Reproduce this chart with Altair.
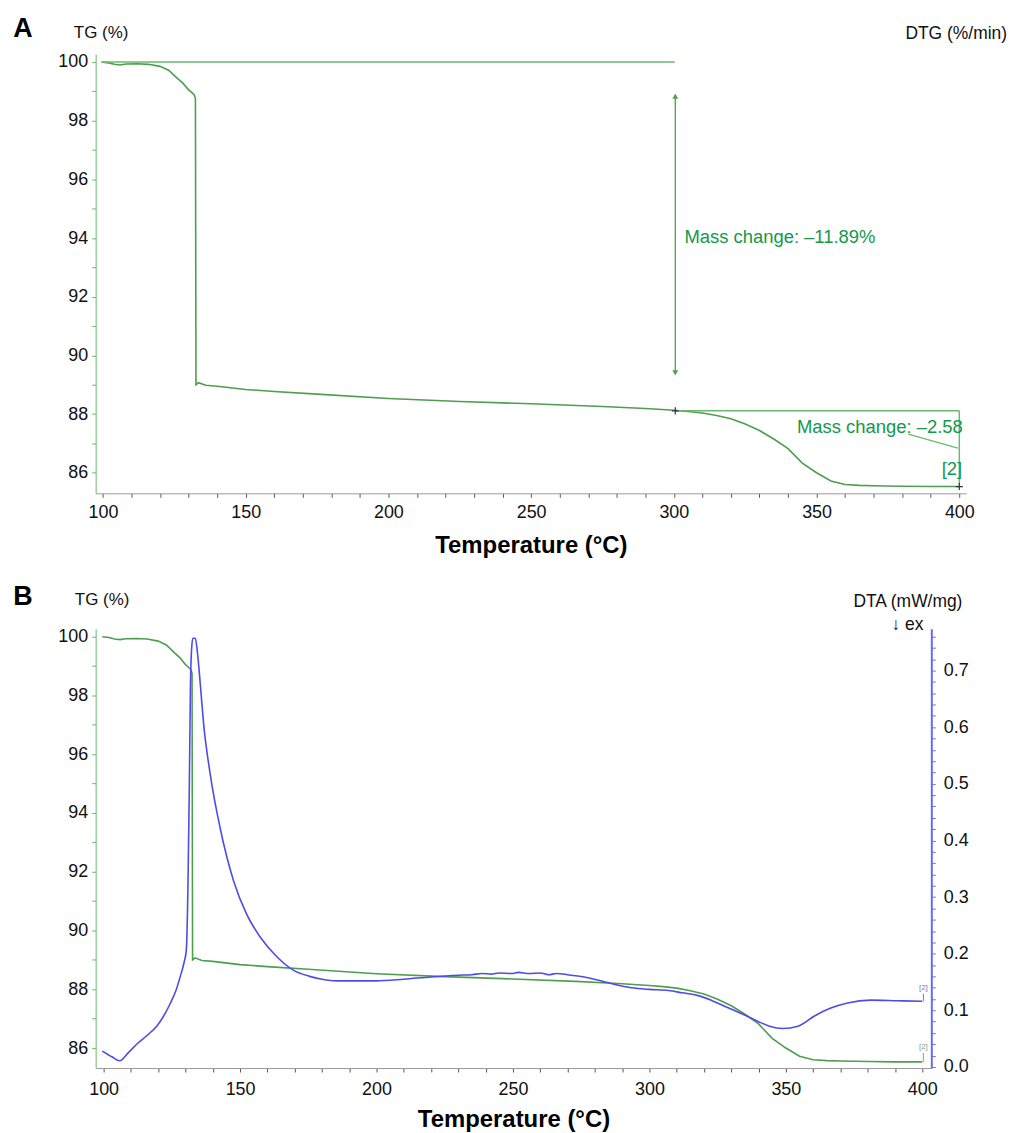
import altair as alt
import pandas as pd

# ---------------- data ----------------
temp_tg = [99.5, 102, 104, 106, 108, 112, 116, 120, 123, 126, 128, 130, 131, 132, 132.4,
           132.6, 133.5, 136, 140, 150, 160, 175, 200, 225, 250, 275, 290, 300, 305, 310,
           315, 320, 325, 330, 335, 340, 345, 350, 355, 360, 365, 370, 380, 390, 400]
tg = [100.0, 99.97, 99.92, 99.9, 99.93, 99.94, 99.92, 99.85, 99.72, 99.45, 99.28, 99.05,
      98.97, 98.88, 98.75, 89.0, 89.07, 88.98, 88.95, 88.84, 88.77, 88.68, 88.53, 88.43,
      88.35, 88.26, 88.19, 88.13, 88.09, 88.04, 87.95, 87.84, 87.66, 87.44, 87.15, 86.82,
      86.33, 86.0, 85.72, 85.6, 85.57, 85.56, 85.54, 85.53, 85.53]

temp_dta = [99.5, 103, 105.9, 109, 112.3, 116, 119.6, 122, 124.5, 126.5, 128.1, 129.5,
            130.3, 130.9, 131.4, 131.8, 132.2, 132.7, 133.6, 134.4, 135.5, 136.6, 139.1,
            142.7, 147.6, 152.4, 157.3, 163.4, 169.5, 175.5, 180, 185.3, 190, 200, 210, 220,
            230, 235, 238.7, 242, 245, 249.6, 252, 256, 260, 263, 266, 270, 273, 277, 282.5,
            287, 293.4, 300, 306.9, 312, 317.9, 323, 327.7, 332, 336.1, 340, 344, 348.9,
            354.4, 360.5, 366.5, 372.6, 381.1, 390.9, 400]
dta = [0.028, 0.018, 0.011, 0.025, 0.041, 0.056, 0.073, 0.090, 0.113, 0.135, 0.160, 0.185,
       0.206, 0.317, 0.492, 0.667, 0.735, 0.757, 0.757, 0.731, 0.672, 0.608, 0.516, 0.422,
       0.329, 0.270, 0.230, 0.195, 0.171, 0.160, 0.155, 0.152, 0.152, 0.152, 0.155, 0.159,
       0.162, 0.163, 0.165, 0.164, 0.166, 0.165, 0.167, 0.165, 0.166, 0.163, 0.165, 0.163,
       0.161, 0.158, 0.152, 0.146, 0.140, 0.137, 0.135, 0.131, 0.126, 0.117, 0.107, 0.098,
       0.089, 0.080, 0.072, 0.068, 0.072, 0.090, 0.104, 0.113, 0.118, 0.117, 0.116]

x_ticks = list(range(100, 401, 10))
tg_ticks = list(range(86, 101))
dta_ticks = [round(i * 0.02, 2) for i in range(0, 39)]

# annotation values (panel A)
mass1_top, mass1_bottom = 98.88, 89.36
step_T, step_TG = 300.5, 88.11
end_T, end_TG = 400.0, 85.53
label1 = "Mass change: \u201311.89%"
label2 = "Mass change: \u20132.58"

FONT = "Liberation Sans"
GREEN = "#4f9d4f"
GREEN_LIGHT = "#6cb86c"
GREEN_TEXT = "#12994a"
BLUE = "#4d4de6"
BLUE_AXIS = "#6a6aee"

tg_df = pd.DataFrame({"T": temp_tg, "TG": tg})
dta_df = pd.DataFrame({"T": temp_dta, "DTA": dta})

x_label_expr = "datum.value % 50 == 0 ? datum.label : ''"
y_label_expr = "datum.value % 2 == 0 ? datum.label : ''"


def x_enc(domain, label_pad, title_pad):
    return alt.X("T:Q", scale=alt.Scale(domain=domain, nice=False, zero=False),
                 axis=alt.Axis(values=x_ticks, labelExpr=x_label_expr,
                               title="Temperature (\u00b0C)", grid=False,
                               labelOverlap=False, labelFlush=False,
                               domainColor="#9a9a9a", tickColor="#555555", tickSize=4,
                               labelFontSize=18, labelPadding=label_pad, labelColor="#111111",
                               labelFont=FONT, titleFont=FONT,
                               titleFontSize=24, titleFontWeight="bold",
                               titlePadding=title_pad, titleColor="#000000"))


def y_tg_enc(domain, tx, ty):
    return alt.Y("TG:Q", scale=alt.Scale(domain=domain, nice=False, zero=False),
                 axis=alt.Axis(values=tg_ticks, labelExpr=y_label_expr, title="TG (%)",
                               titleAngle=0, titleX=tx, titleY=ty, titleAlign="center",
                               titleBaseline="middle", titleFontWeight="normal",
                               titleFontSize=17, titleColor="#111111",
                               labelFont=FONT, titleFont=FONT,
                               labelOverlap=False, labelFlush=False,
                               domainColor=GREEN_LIGHT, tickColor=GREEN_LIGHT, tickSize=4,
                               labelPadding=4, labelFontSize=18, labelColor="#111111",
                               grid=False))


# ---------------- panel A ----------------
xA = x_enc([97.45, 402.4], 6, 12)
yA = y_tg_enc([85.30, 100.27], 5, -22)

lineA = alt.Chart(tg_df).mark_line(color=GREEN, strokeWidth=1.6).encode(x=xA, y=yA)

h100 = alt.Chart(pd.DataFrame({"T": [99.5], "T2": [300.3], "TG": [100.0]})).mark_rule(
    color=GREEN_LIGHT, strokeWidth=1.5).encode(x=xA, x2="T2:Q", y=yA)

arrow = alt.Chart(pd.DataFrame({"T": [step_T], "TG": [mass1_top], "TG2": [mass1_bottom]})).mark_rule(
    color=GREEN, strokeWidth=1.3).encode(x=xA, y=yA, y2="TG2:Q")

heads = alt.Chart(pd.DataFrame({"T": [step_T, step_T], "TG": [mass1_top - 0.05, mass1_bottom + 0.05],
                                "shape": ["triangle-up", "triangle-down"]})).mark_point(
    filled=True, color=GREEN, size=35, opacity=1).encode(
    x=xA, y=yA, shape=alt.Shape("shape:N", scale=None))

h881 = alt.Chart(pd.DataFrame({"T": [step_T], "T2": [400.0], "TG": [step_TG]})).mark_rule(
    color=GREEN_LIGHT, strokeWidth=1.5).encode(x=xA, x2="T2:Q", y=yA)

v400 = alt.Chart(pd.DataFrame({"T": [400.0], "TG": [step_TG], "TG2": [85.6]})).mark_rule(
    color=GREEN_LIGHT, strokeWidth=1.5).encode(x=xA, y=yA, y2="TG2:Q")

leader = alt.Chart(pd.DataFrame({"T": [382.1], "T2": [399.5], "TG": [87.32], "TG2": [86.84]})).mark_rule(
    color=GREEN_LIGHT, strokeWidth=1.3).encode(x=xA, x2="T2:Q", y=yA, y2="TG2:Q")

crosses = alt.Chart(pd.DataFrame({"T": [step_T, end_T], "TG": [step_TG, end_TG]})).mark_point(
    shape="M-1,0L1,0M0,-1L0,1", filled=False, color="#333333", size=50, strokeWidth=1.2,
    opacity=1).encode(x=xA, y=yA)

txt1 = alt.Chart(pd.DataFrame({"T": [303.7], "TG": [94.02], "label": [label1]})).mark_text(
    align="left", baseline="middle", fontSize=18.5, color=GREEN_TEXT, font=FONT).encode(
    x=xA, y=yA, text="label:N")

txt2 = alt.Chart(pd.DataFrame({"T": [401.2], "TG": [87.56], "label": [label2]})).mark_text(
    align="right", baseline="middle", fontSize=18.5, color=GREEN_TEXT, font=FONT).encode(
    x=xA, y=yA, text="label:N")

txt3 = alt.Chart(pd.DataFrame({"T": [401.0], "TG": [86.14], "label": ["[2]"]})).mark_text(
    align="right", baseline="middle", fontSize=18.5, color=GREEN_TEXT, font=FONT).encode(
    x=xA, y=yA, text="label:N")

letterA = alt.Chart(pd.DataFrame({"label": ["A"]})).mark_text(
    fontSize=27, fontWeight="bold", font=FONT, color="#000000", align="center",
    baseline="middle").encode(x=alt.value(-73), y=alt.value(-25), text="label:N")

dtg_title = alt.Chart(pd.DataFrame({"label": ["DTG (%/min)"]})).mark_text(
    fontSize=17.5, font=FONT, color="#111111", align="center", baseline="middle").encode(
    x=alt.value(864), y=alt.value(-20), text="label:N")

panelA = alt.layer(lineA, h100, arrow, heads, h881, v400, leader, crosses, txt1, txt2, txt3,
                   letterA, dtg_title).properties(width=874, height=441)

# ---------------- panel B ----------------
xB = x_enc([97.08, 403.3], 9, 9)
yB = y_tg_enc([85.32, 100.27], 6, -29)

lineB = alt.Chart(tg_df).mark_line(color=GREEN, strokeWidth=1.6).encode(x=xB, y=yB)
tg_end_tick = alt.Chart(pd.DataFrame({"T": [400.4], "TG": [end_TG], "TG2": [85.83]})).mark_rule(
    color="#7fa87f", strokeWidth=1).encode(x=xB, y=yB, y2="TG2:Q")
tg_end_txt = alt.Chart(pd.DataFrame({"T": [400.4], "TG": [86.05], "label": ["[2]"]})).mark_text(
    fontSize=8, font=FONT, color="#7f9f7f", align="center", baseline="middle").encode(
    x=xB, y=yB, text="label:N")
letterB = alt.Chart(pd.DataFrame({"label": ["B"]})).mark_text(
    fontSize=27, fontWeight="bold", font=FONT, color="#000000", align="center",
    baseline="middle").encode(x=alt.value(-73), y=alt.value(-32), text="label:N")
ex_txt = alt.Chart(pd.DataFrame({"label": ["\u2193 ex"]})).mark_text(
    fontSize=17.5, font=FONT, color="#111111", align="center", baseline="middle").encode(
    x=alt.value(815), y=alt.value(-4), text="label:N")

left = alt.layer(lineB, tg_end_tick, tg_end_txt, letterB, ex_txt)

yR = alt.Y("DTA:Q", scale=alt.Scale(domain=[-0.0018, 0.7738], nice=False, zero=False),
           axis=alt.Axis(orient="right", values=dta_ticks,
                         labelExpr="round(datum.value*100) % 10 == 0 ? format(datum.value, '.1f') : ''",
                         title="DTA (mW/mg)", titleAngle=0, titleX=-24, titleY=-27,
                         titleAlign="center", titleBaseline="middle",
                         titleFontWeight="normal", titleFontSize=17.5, titleColor="#111111",
                         labelFont=FONT, titleFont=FONT,
                         labelOverlap=False, labelFlush=False,
                         domainColor=BLUE_AXIS, domainWidth=2, tickColor=BLUE_AXIS,
                         tickSize=4, labelPadding=8, labelFontSize=18, labelColor="#111111",
                         grid=False))

dta_line = alt.Chart(dta_df).mark_line(color=BLUE, strokeWidth=1.6,
                                       interpolate="monotone").encode(x=xB, y=yR)
dta_end_tick = alt.Chart(pd.DataFrame({"T": [400.4], "DTA": [0.116], "DTA2": [0.129]})).mark_rule(
    color="#7777dd", strokeWidth=1).encode(x=xB, y=yR, y2="DTA2:Q")
dta_end_txt = alt.Chart(pd.DataFrame({"T": [400.4], "DTA": [0.140], "label": ["[2]"]})).mark_text(
    fontSize=8, font=FONT, color="#7777cc", align="center", baseline="middle").encode(
    x=xB, y=yR, text="label:N")

right = alt.layer(dta_line, dta_end_tick, dta_end_txt)

panelB = alt.layer(left, right).resolve_scale(y="independent").properties(width=839, height=441)

chart = alt.vconcat(panelA, panelB, spacing=26).properties(
    padding={"left": 5, "top": 5, "right": 0, "bottom": 0},
    background="white"
).configure_view(strokeWidth=0, stroke="transparent").configure_axis(
    labelFont=FONT, titleFont=FONT
)

chart.save("out.html", embed_options={"renderer": "svg", "actions": False})
